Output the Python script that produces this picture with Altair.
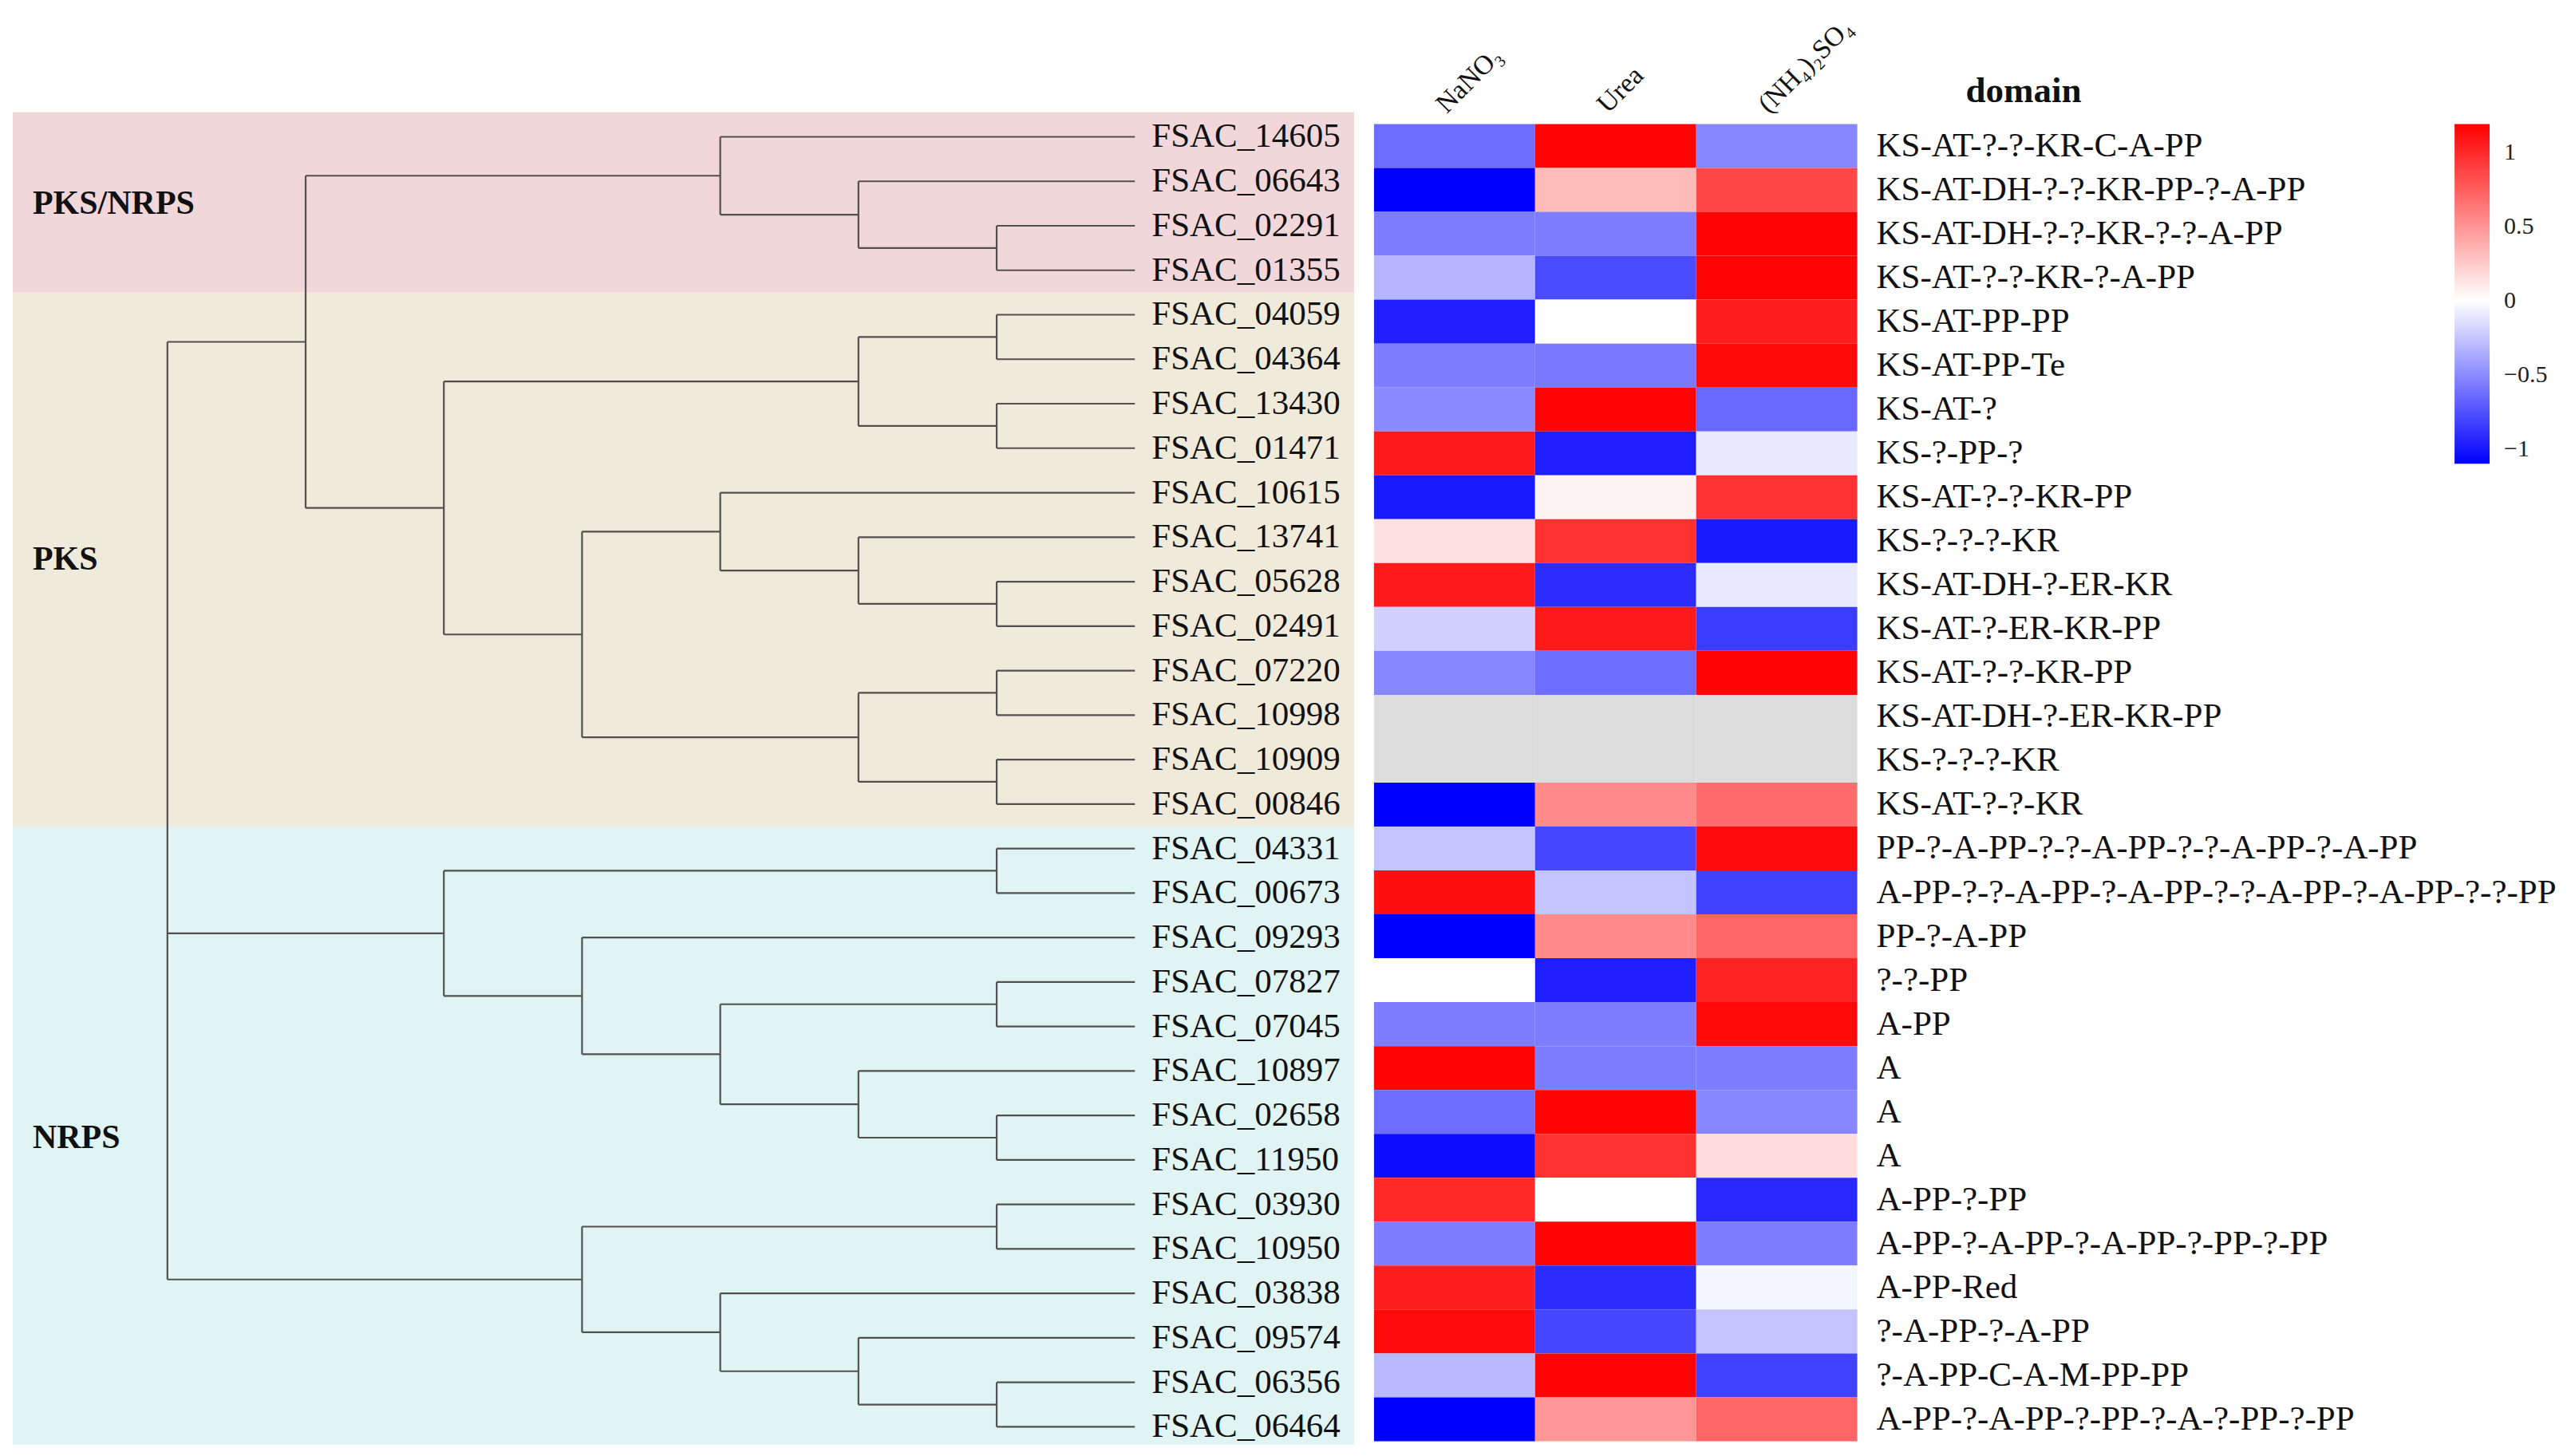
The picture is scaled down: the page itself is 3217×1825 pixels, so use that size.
import altair as alt
import pandas as pd

genes = ["FSAC_14605", "FSAC_06643", "FSAC_02291", "FSAC_01355", "FSAC_04059",
         "FSAC_04364", "FSAC_13430", "FSAC_01471", "FSAC_10615", "FSAC_13741",
         "FSAC_05628", "FSAC_02491", "FSAC_07220", "FSAC_10998", "FSAC_10909",
         "FSAC_00846", "FSAC_04331", "FSAC_00673", "FSAC_09293", "FSAC_07827",
         "FSAC_07045", "FSAC_10897", "FSAC_02658", "FSAC_11950", "FSAC_03930",
         "FSAC_10950", "FSAC_03838", "FSAC_09574", "FSAC_06356", "FSAC_06464"]

domains = ["KS-AT-?-?-KR-C-A-PP", "KS-AT-DH-?-?-KR-PP-?-A-PP", "KS-AT-DH-?-?-KR-?-?-A-PP",
           "KS-AT-?-?-KR-?-A-PP", "KS-AT-PP-PP", "KS-AT-PP-Te", "KS-AT-?", "KS-?-PP-?",
           "KS-AT-?-?-KR-PP", "KS-?-?-?-KR", "KS-AT-DH-?-ER-KR", "KS-AT-?-ER-KR-PP",
           "KS-AT-?-?-KR-PP", "KS-AT-DH-?-ER-KR-PP", "KS-?-?-?-KR", "KS-AT-?-?-KR",
           "PP-?-A-PP-?-?-A-PP-?-?-A-PP-?-A-PP", "A-PP-?-?-A-PP-?-A-PP-?-?-A-PP-?-A-PP-?-?-PP",
           "PP-?-A-PP", "?-?-PP", "A-PP", "A", "A", "A", "A-PP-?-PP",
           "A-PP-?-A-PP-?-A-PP-?-PP-?-PP", "A-PP-Red", "?-A-PP-?-A-PP",
           "?-A-PP-C-A-M-PP-PP", "A-PP-?-A-PP-?-PP-?-A-?-PP-?-PP"]

conditions = ["NaNO\u2083", "Urea", "(NH\u2084)\u2082SO\u2084"]

nano3 = [-0.63, -1.10, -0.56, -0.32, -0.97, -0.56, -0.50, 1.07, -0.99, 0.14,
         1.07, -0.20, -0.52, None, None, -1.10, -0.26, 1.12, -1.10, 0.01,
         -0.56, 1.17, -0.63, -1.04, 1.00, -0.56, 1.05, 1.14, -0.30, -1.10]
urea = [1.17, 0.32, -0.56, -0.78, 0.01, -0.58, 1.17, -0.97, 0.06, 0.96,
        -0.91, 1.07, -0.63, None, None, 0.54, -0.80, -0.26, 0.54, -0.97,
        -0.56, -0.56, 1.17, 0.96, 0.00, 1.17, -0.91, -0.80, 1.17, 0.49]
nh4 = [-0.52, 0.86, 1.17, 1.17, 1.05, 1.15, -0.65, -0.09, 0.96, -0.99,
       -0.10, -0.84, 1.17, None, None, 0.68, 1.14, -0.82, 0.72, 1.03,
       1.15, -0.56, -0.52, 0.16, -0.93, -0.56, -0.04, -0.26, -0.82, 0.72]

groups = ["PKS/NRPS", "PKS", "NRPS"]
group_sizes = [4, 12, 14]
group_colors = ["#F2D7DA", "#F0EADA", "#E1F4F4"]

# dendrogram: (merge level, [children]); ints are leaf indices
tree = (0, [
    (1, [(4, [0, (5, [1, (6, [2, 3])])]),
         (2, [(5, [(6, [4, 5]), (6, [6, 7])]),
              (3, [(4, [8, (5, [9, (6, [10, 11])])]),
                   (5, [(6, [12, 13]), (6, [14, 15])])])])]),
    (2, [(6, [16, 17]),
         (3, [18, (4, [(6, [19, 20]), (5, [21, (6, [22, 23])])])])]),
    (3, [(6, [24, 25]),
         (4, [26, (5, [27, (6, [28, 29])])])]),
])
LEAF_LEVEL = 7

FONT = "Liberation Serif"

# ---------- build tree segments ----------
segs = []


def walk(node):
    if isinstance(node, int):
        return float(node), LEAF_LEVEL
    level, children = node
    info = [walk(c) for c in children]
    ys = [i[0] for i in info]
    segs.append({"x": level, "x2": level, "y": min(ys), "y2": max(ys)})
    for (cy, cx) in info:
        segs.append({"x": level, "x2": cx, "y": cy, "y2": cy})
    return (min(ys) + max(ys)) / 2.0, level


walk(tree)
seg_df = pd.DataFrame(segs)

# ---------- panel 1 ----------
X1_DOM = [-1.119, 8.586]
Y1_DOM = [-0.287, 29.323]
xs1 = alt.Scale(domain=X1_DOM, nice=False, zero=False)
ys1 = alt.Scale(domain=Y1_DOM, nice=False, zero=False, reverse=True)

bands = []
start = 0
for g, n, c in zip(groups, group_sizes, group_colors):
    y0 = start - 0.5
    y1 = start + n - 0.5
    bands.append({"group": g, "color": c, "y0": y0, "y1": y1,
                  "x0": X1_DOM[0], "x1": X1_DOM[1], "ym": (y0 + y1) / 2})
    start += n
bands[0]["y0"] = -0.55
bands[-1]["y1"] = 29.4
band_df = pd.DataFrame(bands)

leaf_df = pd.DataFrame({"gene": genes, "row": list(range(len(genes))),
                        "lx": [LEAF_LEVEL] * len(genes)})

band_layer = alt.Chart(band_df).mark_rect(strokeWidth=0).encode(
    x=alt.X("x0:Q", scale=xs1, axis=None), x2="x1:Q",
    y=alt.Y("y0:Q", scale=ys1, axis=None), y2="y1:Q",
    color=alt.Color("color:N", scale=None))

group_text = alt.Chart(band_df).mark_text(
    align="left", baseline="middle", font=FONT, fontSize=42, fontWeight="bold",
    color="#111111", dx=25).encode(
    x=alt.X("x0:Q", scale=xs1, axis=None),
    y=alt.Y("ym:Q", scale=ys1, axis=None),
    text="group:N")

tree_layer = alt.Chart(seg_df).mark_rule(color="#505050", strokeWidth=2.2).encode(
    x=alt.X("x:Q", scale=xs1, axis=None), x2="x2:Q",
    y=alt.Y("y:Q", scale=ys1, axis=None), y2="y2:Q")

leaf_text = alt.Chart(leaf_df).mark_text(
    align="left", baseline="middle", font=FONT, fontSize=43, color="#111111",
    dx=21).encode(
    x=alt.X("lx:Q", scale=xs1, axis=None),
    y=alt.Y("row:Q", scale=ys1, axis=None),
    text="gene:N")

panel1 = alt.layer(band_layer, tree_layer, leaf_text, group_text).properties(
    width=1682, height=1652)

# ---------- panel 2 ----------
xs2 = alt.Scale(domain=[0, 3], nice=False, zero=False)
ys2 = alt.Scale(domain=[-0.5, 29.5], nice=False, zero=False, reverse=True)

cells = []
na_cells = []
for ci, (cname, vals) in enumerate(zip(conditions, [nano3, urea, nh4])):
    for ri, v in enumerate(vals):
        rec = {"gene": genes[ri], "cond": cname, "c0": ci, "c1": ci + 1,
               "r0": ri - 0.5, "r1": ri + 0.5, "value": v}
        if v is None:
            na_cells.append(rec)
        else:
            cells.append(rec)
cell_df = pd.DataFrame(cells)
na_df = pd.DataFrame(na_cells)

heat = alt.Chart(cell_df).mark_rect(strokeWidth=0).encode(
    x=alt.X("c0:Q", scale=xs2, axis=None), x2="c1:Q",
    y=alt.Y("r0:Q", scale=ys2, axis=None), y2="r1:Q",
    color=alt.Color("value:Q",
                    scale=alt.Scale(domain=[-1.10, 0, 1.19],
                                    range=["#0000FF", "#FFFFFF", "#FF0000"],
                                    interpolate="rgb"),
                    legend=alt.Legend(orient="none", legendX=1355, legendY=0,
                                      title=None, direction="vertical",
                                      values=[-1, -0.5, 0, 0.5, 1],
                                      format="~g",
                                      gradientLength=426, gradientThickness=44,
                                      gradientStrokeWidth=0,
                                      labelFont=FONT, labelFontSize=30,
                                      labelColor="#222222", labelOffset=18,
                                      labelOverlap=False)))

na_layer = alt.Chart(na_df).mark_rect(strokeWidth=0, color="#DCDCDC").encode(
    x=alt.X("c0:Q", scale=xs2, axis=None), x2="c1:Q",
    y=alt.Y("r0:Q", scale=ys2, axis=None), y2="r1:Q")

dom_df = pd.DataFrame({"domain": domains, "row": list(range(len(domains))),
                       "dx": [3] * len(domains)})
dom_text = alt.Chart(dom_df).mark_text(
    align="left", baseline="middle", font=FONT, fontSize=43, color="#111111",
    dx=24).encode(
    x=alt.X("dx:Q", scale=xs2, axis=None),
    y=alt.Y("row:Q", scale=ys2, axis=None),
    text="domain:N")

col_df = pd.DataFrame({"cond": conditions, "cx": [i + 0.5 for i in range(3)],
                       "cy": [-0.9] * 3})
col_text = alt.Chart(col_df).mark_text(
    align="left", baseline="alphabetic", angle=315, font=FONT, fontSize=34,
    color="#111111", dx=-14).encode(
    x=alt.X("cx:Q", scale=xs2, axis=None),
    y=alt.Y("cy:Q", scale=ys2, axis=None),
    text="cond:N")

title_df = pd.DataFrame({"t": ["domain"], "tx": [3], "ty": [-1.26]})
title_text = alt.Chart(title_df).mark_text(
    align="left", baseline="middle", font=FONT, fontSize=45, fontWeight="bold",
    color="#111111", dx=136).encode(
    x=alt.X("tx:Q", scale=xs2, axis=None),
    y=alt.Y("ty:Q", scale=ys2, axis=None),
    text="t:N")

panel2 = alt.layer(heat, na_layer, dom_text, col_text, title_text).properties(
    width=606, height=1652)

chart = alt.hconcat(panel1, panel2, spacing=25, bounds="flush").resolve_scale(
    color="independent").resolve_legend(color="independent").properties(
    padding={"left": 8, "top": 9, "right": 5, "bottom": 5},
    background="white").configure_view(strokeWidth=0)

chart.save("out.html", embed_options={"renderer": "svg", "actions": False})
